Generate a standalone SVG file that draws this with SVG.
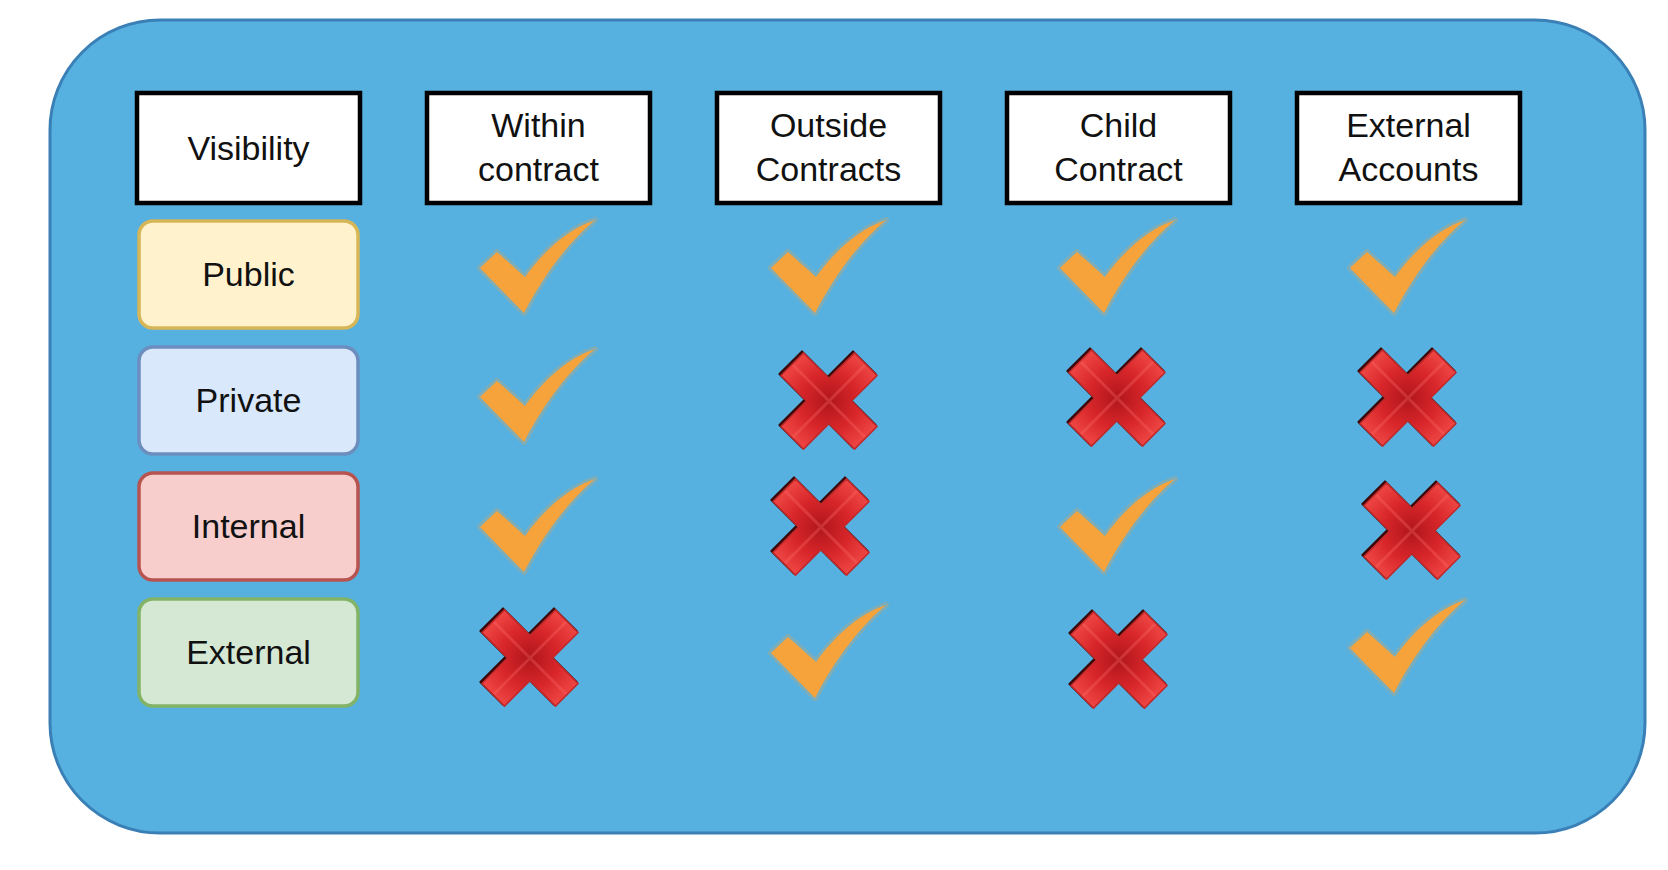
<svg xmlns="http://www.w3.org/2000/svg" xmlns:xlink="http://www.w3.org/1999/xlink" width="1668" height="870" viewBox="0 0 1668 870">
<style>
.lbl{font-family:"Liberation Sans",Arial,Helvetica,sans-serif;font-size:34px;fill:#111;text-anchor:middle}
.hdr{fill:#ffffff;stroke:#000000;stroke-width:4.5}
.row{stroke-width:3.5}
</style>
<defs>
<radialGradient id="xg" cx="0.5" cy="0.5" r="0.6">
<stop offset="0" stop-color="#b0161b"/>
<stop offset="0.5" stop-color="#d8262a"/>
<stop offset="1" stop-color="#f24c48"/>
</radialGradient>
<g id="check">
<path d="M -60,-6 L -43,-22 L -15,3 C 3,-22 26,-44 55,-54 C 30,-33 6,-3 -16,39 Z" fill="#f7a33c" stroke="#f7a33c" stroke-opacity="0.25" stroke-width="6" stroke-linejoin="round"/>
</g>
<g id="cross">
<polygon transform="translate(-1.5,-1.5)" points="25.5,-48.1 48.1,-25.5 22.6,0 48.1,25.5 25.5,48.1 0,22.6 -25.5,48.1 -48.1,25.5 -22.6,0 -48.1,-25.5 -25.5,-48.1 0,-22.6" fill="#3a0709" stroke="#3a0709" stroke-width="2" stroke-linejoin="round"/>
<polygon points="25.5,-48.1 48.1,-25.5 22.6,0 48.1,25.5 25.5,48.1 0,22.6 -25.5,48.1 -48.1,25.5 -22.6,0 -48.1,-25.5 -25.5,-48.1 0,-22.6" fill="url(#xg)" stroke="#c0282a" stroke-width="1.5" stroke-linejoin="round"/>
<path d="M -36,-36 L 36,36 M 36,-36 L -36,36" stroke="#ff7070" stroke-opacity="0.3" stroke-width="3"/>
</g>
</defs>

<g id="container">
<rect x="50" y="20" width="1595" height="813" rx="110" ry="110" fill="#56b1e0" stroke="#3a80b6" stroke-width="3"/>
</g>

<g id="hdr-visibility">
<rect class="hdr" x="137" y="93" width="223" height="110"/>
<text class="lbl" x="248.5" y="160">Visibility</text>
</g>
<g id="hdr-within">
<rect class="hdr" x="427" y="93" width="223" height="110"/>
<text class="lbl" x="538.5" y="137">Within</text>
<text class="lbl" x="538.5" y="181">contract</text>
</g>
<g id="hdr-outside">
<rect class="hdr" x="717" y="93" width="223" height="110"/>
<text class="lbl" x="828.5" y="137">Outside</text>
<text class="lbl" x="828.5" y="181">Contracts</text>
</g>
<g id="hdr-child">
<rect class="hdr" x="1007" y="93" width="223" height="110"/>
<text class="lbl" x="1118.5" y="137">Child</text>
<text class="lbl" x="1118.5" y="181">Contract</text>
</g>
<g id="hdr-accounts">
<rect class="hdr" x="1297" y="93" width="223" height="110"/>
<text class="lbl" x="1408.5" y="137">External</text>
<text class="lbl" x="1408.5" y="181">Accounts</text>
</g>

<g id="row-public">
<rect class="row" x="139" y="221" width="219" height="107" rx="14" fill="#fff2cc" stroke="#d6b656"/>
<text class="lbl" x="248.5" y="286">Public</text>
</g>
<g id="row-private">
<rect class="row" x="139" y="347" width="219" height="107" rx="14" fill="#dae8fc" stroke="#6c8ebf"/>
<text class="lbl" x="248.5" y="412">Private</text>
</g>
<g id="row-internal">
<rect class="row" x="139" y="473" width="219" height="107" rx="14" fill="#f8cecc" stroke="#b85450"/>
<text class="lbl" x="248.5" y="538">Internal</text>
</g>
<g id="row-external">
<rect class="row" x="139" y="599" width="219" height="107" rx="14" fill="#d5e8d4" stroke="#82b366"/>
<text class="lbl" x="248.5" y="664">External</text>
</g>

<g id="cells">
<use xlink:href="#check" x="540" y="274"/>
<use xlink:href="#check" x="831" y="274"/>
<use xlink:href="#check" x="1120" y="274"/>
<use xlink:href="#check" x="1410" y="274"/>

<use xlink:href="#check" x="540" y="403"/>
<use xlink:href="#cross" x="829" y="401"/>
<use xlink:href="#cross" x="1117" y="398"/>
<use xlink:href="#cross" x="1408" y="398"/>

<use xlink:href="#check" x="540" y="533"/>
<use xlink:href="#cross" x="821" y="527"/>
<use xlink:href="#check" x="1120" y="533"/>
<use xlink:href="#cross" x="1412" y="531"/>

<use xlink:href="#cross" x="530" y="658"/>
<use xlink:href="#check" x="831" y="659"/>
<use xlink:href="#cross" x="1119" y="660"/>
<use xlink:href="#check" x="1410" y="654"/>
</g>
</svg>
